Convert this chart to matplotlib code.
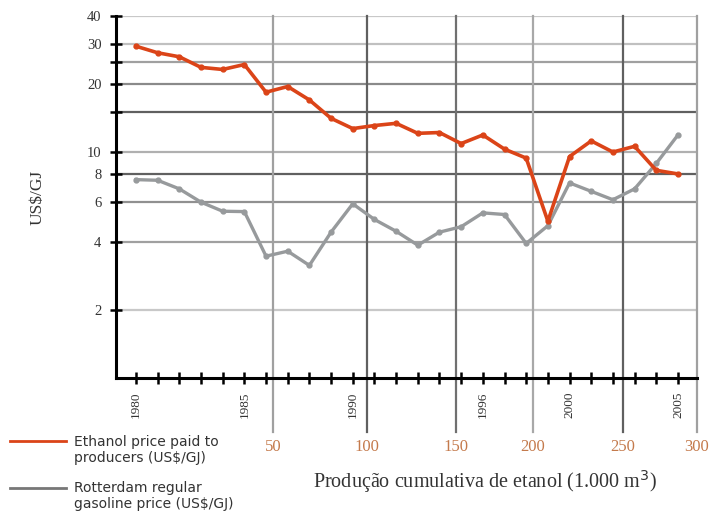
import numpy as np
import matplotlib.pyplot as plt
from matplotlib.lines import Line2D

# ----------------- DADOS -----------------
anos = list(range(1980, 2006))
etanol = [29.4, 27.5, 26.4, 23.7, 23.2, 24.4, 18.4, 19.5, 17.0, 14.1,
          12.7, 13.1, 13.4, 12.1, 12.2, 10.9, 11.9, 10.3, 9.4, 4.94,
          9.55, 11.2, 10.0, 10.6, 8.3, 8.0]
gasolina = [7.55, 7.5, 6.87, 6.0, 5.47, 5.45, 3.46, 3.64, 3.15, 4.42,
            5.9, 5.03, 4.46, 3.87, 4.42, 4.67, 5.38, 5.29, 3.94, 4.72,
            7.3, 6.7, 6.15, 6.87, 8.9, 11.9]

anos_rotulo = [1980, 1985, 1990, 1996, 2000, 2005]
producao = [50, 100, 150, 200, 250, 300]
# posição (em anos) de cada marca de produção cumulativa
producao_pos = [1986.32, 1990.65, 1994.76, 1998.31, 2002.46, 2005.88]
producao_cor = ["#a0a0a0", "#606060", "#707070", "#a8a8a8", "#606060", "#a0a0a0"]

y_ticks = [2, 4, 6, 8, 10, 15, 20, 25, 30, 40]
y_rotulos = ["2", "4", "6", "8", "10", "", "20", "", "30", "40"]
y_cor = ["#c8c8c8", "#a0a0a0", "#909090", "#606060", "#b0b0b0",
         "#606060", "#8a8a8a", "#a0a0a0", "#c0c0c0", "#c8c8c8"]

VERMELHO = "#db4418"
CINZA = "#979a9c"
SERIF = "Liberation Serif"

# ----------------- FIGURA -----------------
fig = plt.figure(figsize=(7.13, 5.13), dpi=100)
ax = fig.add_axes([0.1627, 0.2632, 0.8149, 0.7056])
ax.set_yscale("log")
ax.set_ylim(1.0, 40)
ax.set_xlim(1979.08, 2005.88)

# grade horizontal
for v, c in zip(y_ticks, y_cor):
    ax.axhline(v, color=c, lw=1.6, zorder=1)

# grade vertical (desce abaixo do eixo)
for p, rot, c in zip(producao_pos, producao, producao_cor):
    ax.axvline(p, ymin=-0.15, ymax=1, color=c, lw=1.6, zorder=1, clip_on=False)
    ax.text(p, -0.19, str(rot), transform=ax.get_xaxis_transform(),
            ha="center", va="center", color="#c47a4c", fontsize=12,
            family=SERIF)

# séries
ax.plot(anos, gasolina, color=CINZA, lw=2.4, marker="o", ms=3.5, zorder=3)
ax.plot(anos, etanol, color=VERMELHO, lw=2.6, marker="o", ms=3.5, zorder=4)

# eixos
for s in ["top", "right"]:
    ax.spines[s].set_visible(False)
for s in ["left", "bottom"]:
    ax.spines[s].set_linewidth(2.2)
    ax.spines[s].set_color("black")

ax.set_yticks(y_ticks)
ax.set_yticklabels(y_rotulos, family=SERIF, fontsize=10.5, color="#333333")
ax.yaxis.set_minor_locator(plt.NullLocator())
ax.tick_params(axis="y", direction="inout", length=9, width=1.8, pad=6)

ax.set_xticks(anos)
ax.set_xticklabels([str(a) if a in anos_rotulo else "" for a in anos],
                   rotation=90, family=SERIF, fontsize=9.5, color="#333333")
ax.tick_params(axis="x", direction="inout", length=9, width=1.8, pad=5)

ax.set_ylabel("US$/GJ", family=SERIF, fontsize=12.5, color="#333333", labelpad=30)

fig.text(0.68, 0.062, "Produção cumulativa de etanol (1.000 m$^3$)",
         ha="center", va="center", family=SERIF, fontsize=14.5, color="#333333")

# legenda
fig.add_artist(Line2D([0.014, 0.092], [1 - 441 / 513] * 2, color=VERMELHO,
                      lw=2, transform=fig.transFigure))
fig.add_artist(Line2D([0.014, 0.092], [1 - 488 / 513] * 2, color="#777777",
                      lw=2, transform=fig.transFigure))
fig.text(0.104, 1 - 450 / 513, "Ethanol price paid to\nproducers (US$/GJ)",
         ha="left", va="center", fontsize=10, color="#333333",
         family="DejaVu Sans", linespacing=1.1)
fig.text(0.104, 1 - 496 / 513, "Rotterdam regular\ngasoline price (US$/GJ)",
         ha="left", va="center", fontsize=10, color="#333333",
         family="DejaVu Sans", linespacing=1.1)

fig.savefig("out.png", dpi=100)
